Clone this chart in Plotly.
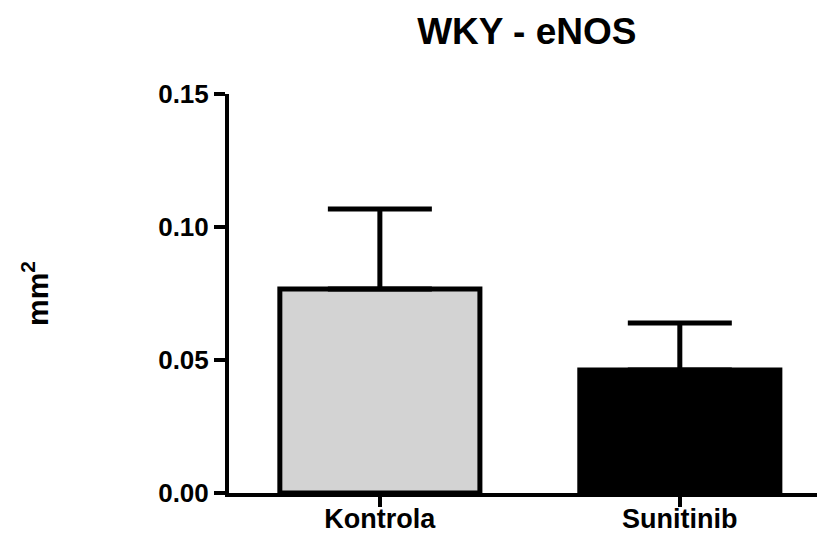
import plotly.graph_objects as go

categories = ["Kontrola", "Sunitinib"]
means = [0.0767, 0.0462]
sem = [0.0301, 0.0177]
fill_colors = ["#d3d3d3", "#000000"]
y_ticks = [0.00, 0.05, 0.10, 0.15]
y_tick_labels = ["0.00", "0.05", "0.10", "0.15"]

FONT = "Arial, Liberation Sans, sans-serif"

fig = go.Figure()
fig.add_trace(go.Bar(
    x=[0, 1],
    y=means,
    width=0.667,
    marker=dict(color=fill_colors, line=dict(color="black", width=5)),
    error_y=dict(type="data", symmetric=False, array=sem, arrayminus=[0, 0],
                 color="black", thickness=5, width=52),
    showlegend=False,
))

# page body has an 8px margin: figure is sized/offset to compensate
fig.update_layout(
    width=817, height=528,
    margin=dict(l=221, r=0, t=86, b=43, autoexpand=False),
    plot_bgcolor="white", paper_bgcolor="white",
    title=dict(text="WKY - eNOS", x=0.635, xanchor="center", y=0.957, yanchor="middle",
               font=dict(family=FONT, size=37, color="black", weight="bold")),
    xaxis=dict(range=[-0.503, 1.484], tickmode="array", tickvals=[0, 1], ticktext=categories,
               showline=True, linecolor="black", linewidth=4, ticks="outside", ticklen=10,
               tickwidth=4, tickcolor="black", showgrid=False, zeroline=False,
               automargin=False, ticklabelstandoff=-11,
               tickfont=dict(family=FONT, size=27, color="black", weight="bold")),
    yaxis=dict(range=[0, 0.15], tickmode="array", tickvals=y_ticks, ticktext=y_tick_labels,
               showline=True, linecolor="black", linewidth=4, ticks="outside", ticklen=11,
               tickwidth=4, tickcolor="black", showgrid=False, zeroline=False,
               automargin=False,
               tickfont=dict(family=FONT, size=26, color="black", weight="bold"),
               title=dict(text="mm<sup>2</sup>", standoff=102,
                          font=dict(family=FONT, size=30, color="black", weight="bold"))),
)

fig.write_html("out.html")
